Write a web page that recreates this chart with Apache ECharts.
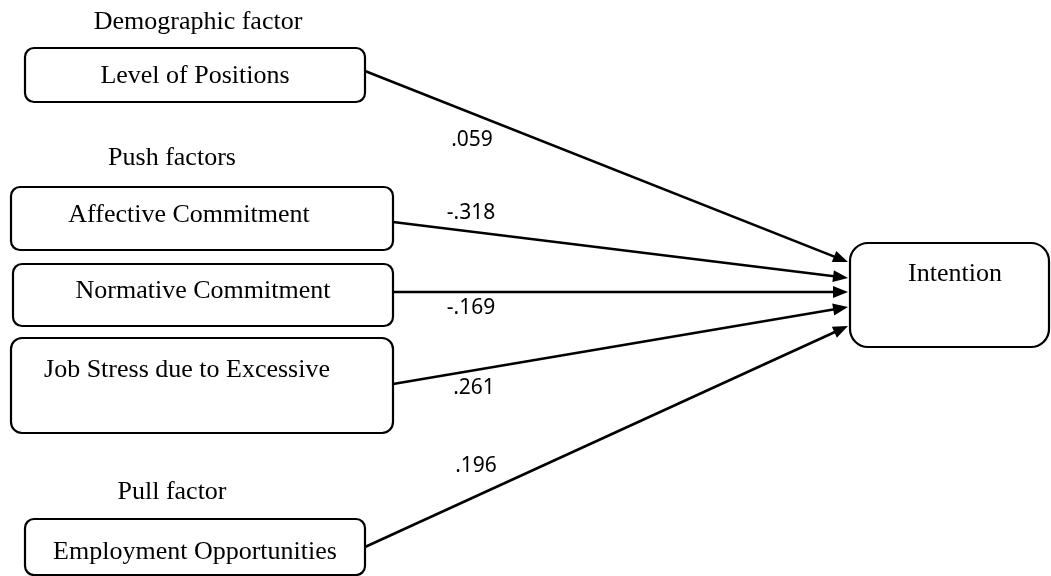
<!DOCTYPE html>
<html>
<head>
<meta charset="utf-8">
<script src="https://cdn.jsdelivr.net/npm/echarts@6/dist/echarts.min.js"></script>
<style>
html,body{margin:0;padding:0;background:#fff;}
#c{width:1051px;height:576px;}
</style>
</head>
<body>
<div id="c"></div>
<script>
// ---- data ----
const factors = ['Level of Positions', 'Affective Commitment', 'Normative Commitment', 'Job Stress due to Excessive', 'Employment Opportunities'];
const outcome = 'Intention';
const coefficients = [0.059, -0.318, -0.169, 0.261, 0.196];
const groupTitles = ['Demographic factor', 'Push factors', 'Pull factor'];

// ---- layout (diagram space, mapped through hidden value axes) ----
const boxLayout = [ // [x0, y0, x1, y1, textX, textY, radius]
  [25, 48, 365, 102, 195, 76, 9],
  [11, 187, 393, 250, 189, 215, 9],
  [13, 264, 393, 326, 203, 291, 9],
  [11, 338, 393, 433, 187, 370, 11],
  [25, 519, 365, 575, 195, 552, 9],
  [850, 243, 1049, 347, 955, 274, 18]
];
const pathStart = [[365, 71], [393, 222], [393, 292], [393, 384], [365, 547]];
const pathEnd = [[848, 262], [848, 278], [848, 292], [848, 307], [848, 326]];
const labelPos = [[472, 140], [471, 213], [471, 308], [474, 388], [476, 466]];
const titlePos = [[198, 22], [172, 158], [172, 492]];

const serif = '"Liberation Serif","Times New Roman",serif';
const sans = '"Noto Sans","DejaVu Sans",sans-serif';
const nodes = factors.concat([outcome]);

function fmt(v) {
  return v.toFixed(3).replace('0.', '.');
}

const chart = echarts.init(document.getElementById('c'), null, {renderer: 'canvas'});
chart.setOption({
  animation: false,
  backgroundColor: '#fff',
  grid: {left: 0, right: 0, top: 0, bottom: 0},
  xAxis: {type: 'value', min: 0, max: 1051, show: false},
  yAxis: {type: 'value', min: 0, max: 576, inverse: true, show: false},
  series: [
    {
      type: 'custom',
      name: 'paths',
      clip: false,
      silent: true,
      data: coefficients.map((v, i) => [i, v]),
      renderItem: function (params, api) {
        const i = api.value(0);
        const s = api.coord(pathStart[i]);
        const e = api.coord(pathEnd[i]);
        const dx = e[0] - s[0], dy = e[1] - s[1];
        const L = Math.hypot(dx, dy), ux = dx / L, uy = dy / L;
        const hl = 15, hw = 6;
        const bx = e[0] - ux * hl, by = e[1] - uy * hl;
        const lp = api.coord(labelPos[i]);
        return {
          type: 'group',
          children: [
            {type: 'line', shape: {x1: s[0], y1: s[1], x2: bx + ux * 3, y2: by + uy * 3},
              style: {stroke: '#000', lineWidth: 2.5}},
            {type: 'polygon', shape: {points: [[e[0], e[1]], [bx - uy * hw, by + ux * hw], [bx + uy * hw, by - ux * hw]]},
              style: {fill: '#000'}},
            {type: 'text', x: lp[0], y: lp[1],
              style: {text: fmt(api.value(1)), align: 'center', verticalAlign: 'middle',
                fontSize: 21, fontFamily: sans, fill: '#000'}}
          ]
        };
      }
    },
    {
      type: 'custom',
      name: 'boxes',
      clip: false,
      silent: true,
      data: nodes.map((n, i) => [i]),
      renderItem: function (params, api) {
        const i = api.value(0);
        const b = boxLayout[i];
        const p0 = api.coord([b[0], b[1]]);
        const p1 = api.coord([b[2], b[3]]);
        const t = api.coord([b[4], b[5]]);
        return {
          type: 'group',
          children: [
            {type: 'rect', shape: {x: p0[0], y: p0[1], width: p1[0] - p0[0], height: p1[1] - p0[1], r: b[6]},
              style: {fill: '#fff', stroke: '#000', lineWidth: 2.2}},
            {type: 'text', x: t[0], y: t[1],
              style: {text: nodes[i], align: 'center', verticalAlign: 'middle',
                fontSize: 26, fontFamily: serif, fill: '#000'}}
          ]
        };
      }
    },
    {
      type: 'custom',
      name: 'titles',
      clip: false,
      silent: true,
      data: groupTitles.map((g, i) => [i]),
      renderItem: function (params, api) {
        const i = api.value(0);
        const p = api.coord(titlePos[i]);
        return {type: 'text', x: p[0], y: p[1],
          style: {text: groupTitles[i], align: 'center', verticalAlign: 'middle',
            fontSize: 26, fontFamily: serif, fill: '#000'}};
      }
    }
  ]
});
</script>
</body>
</html>
